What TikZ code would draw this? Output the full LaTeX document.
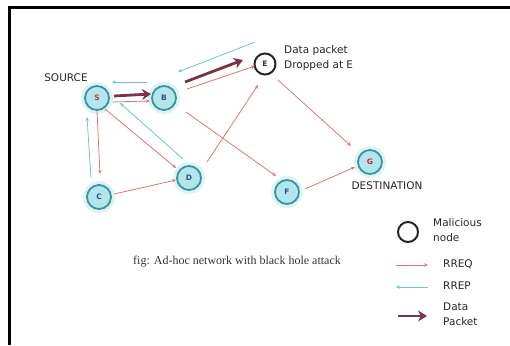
\documentclass[tikz,border=0pt]{standalone}
\usepackage{fontspec}
\setmainfont{DejaVu Sans}
\newfontfamily\capfont{Liberation Serif}
\usetikzlibrary{arrows.meta}

% colours of the network figure
\definecolor{nodefill}{RGB}{178,230,236}
\definecolor{nodeline}{RGB}{58,148,154}
\definecolor{reqred}{RGB}{220,118,118}
\definecolor{repcyan}{RGB}{108,198,208}
\definecolor{pktred}{RGB}{122,52,72}
\definecolor{srcred}{RGB}{168,72,52}
\definecolor{dstred}{RGB}{196,34,64}
\definecolor{hostblue}{RGB}{52,82,128}

\tikzset{
  host/.style={circle, draw=nodeline, fill=nodefill, line width=1.8pt,
    minimum size=24pt, inner sep=0pt, text=hostblue,
    font=\fontsize{7.5}{7.5}\selectfont\bfseries,
    preaction={draw=nodefill!45, line width=8pt}},
  bad/.style={circle, draw=black!85, fill=white, line width=2pt,
    minimum size=21pt, inner sep=0pt, text=black!80,
    font=\fontsize{7.5}{7.5}\selectfont\bfseries},
  rreq/.style={draw=reqred, line width=0.8pt, -{Stealth[length=4pt,width=3.5pt]}},
  rrep/.style={draw=repcyan, line width=0.8pt, -{Stealth[length=4pt,width=3.5pt]}},
  datapkt/.style={draw=pktred, line width=2.8pt, -{Stealth[length=9pt,width=11pt]}},
  lbl/.style={font=\fontsize{10.5}{15}\selectfont, text=black!85, inner sep=0pt}
}

\begin{document}
\begin{tikzpicture}[x=1pt,y=-1pt]
  \useasboundingbox (0,0) rectangle (510,345);
  % frame, open at the bottom and right
  \draw[line width=3pt] (9.5,345) -- (9.5,7.5) -- (510,7.5);

  % Define the nodes of the network
  \node[host, text=srcred] (S) at (97,98) {S};
  \node[host] (B) at (164,98) {B};
  \node[bad] (E) at (265,64) {E};
  \node[host] (C) at (99,197) {C};
  \node[host] (D) at (189,178) {D};
  \node[host] (F) at (287,192) {F};
  \node[host, text=dstred] (G) at (370,162) {G};

  % Labels next to the nodes
  \node[lbl] (src) at (66,78) {SOURCE};
  \node[lbl] (dst) at (387,186) {DESTINATION};
  \node[lbl, anchor=west, align=left] (drop) at (284,58) {Data packet\\Dropped at E};

  % Data packet going S -> B -> E
  \draw[datapkt] ([shift={(17,-2)}]S.center) -- ([shift={(-13,-4)}]B.center);
  \draw[datapkt] ([shift={(21,-16)}]B.center) -- ([shift={(-22,-4)}]E.center);

  % Route requests
  \draw[rreq] ([shift={(15,4)}]S.center) -- ([shift={(-14,3)}]B.center);
  \draw[rreq] ([shift={(23,-9)}]B.center) -- ([shift={(-10,2)}]E.center);
  \draw[rreq] ([shift={(0,13)}]S.center) -- ([shift={(1,-23)}]C.center);
  \draw[rreq] ([shift={(8,11)}]S.center) -- ([shift={(-13,-10)}]D.center);
  \draw[rreq] ([shift={(15,-3)}]C.center) -- ([shift={(-13,2)}]D.center);
  \draw[rreq] ([shift={(18,-16)}]D.center) -- ([shift={(-7,21)}]E.center);
  \draw[rreq] ([shift={(22,14)}]B.center) -- ([shift={(-11,-16)}]F.center);
  \draw[rreq] ([shift={(13,16)}]E.center) -- ([shift={(-19,-16)}]G.center);
  \draw[rreq] ([shift={(18,-3)}]F.center) -- ([shift={(-15,5)}]G.center);

  % Route replies
  \draw[rrep] ([shift={(-17,-16)}]B.center) -- ([shift={(15,-16)}]S.center);
  \draw[rrep] ([shift={(-10,-22)}]E.center) -- ([shift={(14,-26)}]B.center);
  \draw[rrep] ([shift={(-8,-19)}]C.center) -- ([shift={(-10,19)}]S.center);
  \draw[rrep] ([shift={(-6,-19)}]D.center) -- ([shift={(23,5)}]S.center);

  % Caption
  \node[font=\capfont\fontsize{12}{14}\selectfont, text=black!80] (cap) at (237,262)
    {fig: Ad-hoc network with black hole attack};

  % Legend
  \node[bad, minimum size=20pt] (key) at (408,232) {};
  \node[lbl, anchor=west, align=left] (keytxt) at (433,230) {Malicious\\node};
  \coordinate (q1) at (396,265);
  \coordinate (q2) at (428,265);
  \draw[rreq] (q1) -- (q2);
  \node[lbl, anchor=west] (qtxt) at (443,264) {RREQ};
  \coordinate (p1) at (396,287);
  \coordinate (p2) at (428,287);
  \draw[rrep] (p2) -- (p1);
  \node[lbl, anchor=west] (ptxt) at (443,286) {RREP};
  \coordinate (d1) at (398,316);
  \coordinate (d2) at (427,316);
  \draw[datapkt] (d1) -- (d2);
  \node[lbl, anchor=west, align=left] (dtxt) at (443,314) {Data\\Packet};
\end{tikzpicture}
\end{document}
